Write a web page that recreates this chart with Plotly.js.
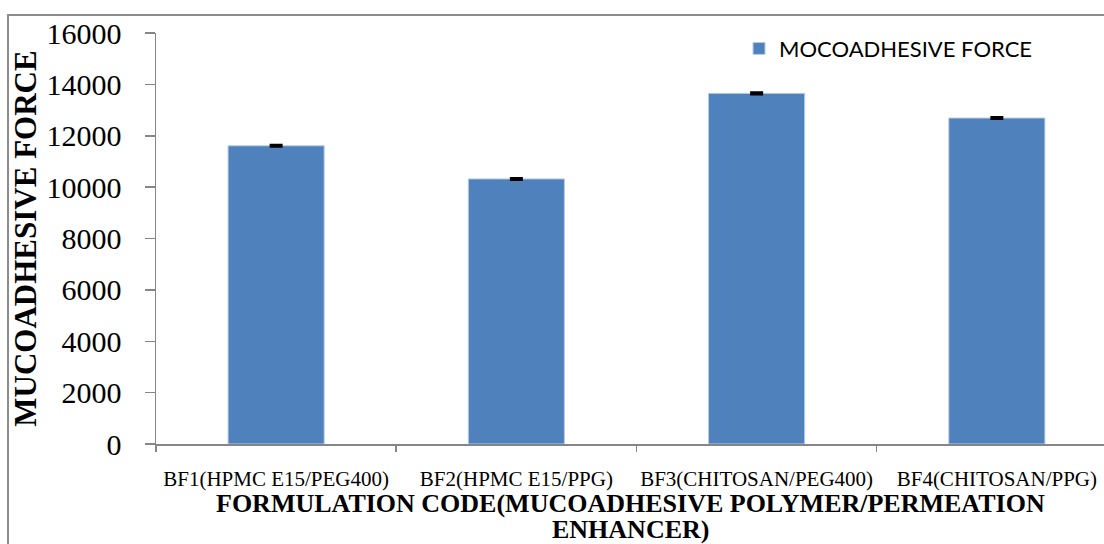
<!DOCTYPE html>
<html>
<head>
<meta charset="utf-8">
<script src="https://cdn.plot.ly/plotly-3.0.1.min.js"></script>
<style>html,body{margin:0;padding:0;background:#fff;}#chart{width:1104px;height:544px;}</style>
</head>
<body>
<div id="chart"></div>
<script>
const categories = ["BF1(HPMC E15/PEG400)", "BF2(HPMC E15/PPG)", "BF3(CHITOSAN/PEG400)", "BF4(CHITOSAN/PPG)"];
const forceValues = [11610, 10320, 13650, 12690];
const forceErrors = [20, 20, 20, 20];
const seriesName = "MOCOADHESIVE FORCE";
const yTickValues = [0, 2000, 4000, 6000, 8000, 10000, 12000, 14000, 16000];
const yTitle = "MUCOADHESIVE FORCE";
const xTitleLine1 = "FORMULATION CODE(MUCOADHESIVE POLYMER/PERMEATION";
const xTitleLine2 = "ENHANCER)";

const serif = "'Liberation Serif', 'Times New Roman', serif";
const axisGrey = "#868686";

const trace = {
  type: "bar",
  x: categories,
  y: forceValues,
  name: seriesName,
  width: 0.4,
  marker: {color: "#4F81BD", line: {color: "#b8cce4", width: 1}},
  error_y: {type: "data", array: forceErrors, visible: true, color: "#000", thickness: 3, width: 6.5},
  showlegend: true
};

const titleFont = {family: serif, size: 26, color: "#000"};

const layout = {
  width: 1104,
  height: 544,
  margin: {l: 156, r: 0, t: 33, b: 100, pad: 0},
  paper_bgcolor: "#fff",
  plot_bgcolor: "#fff",
  showlegend: true,
  legend: {
    x: 0.615, y: 0.962, xanchor: "left", yanchor: "middle",
    font: {family: "Lato, 'Open Sans', sans-serif", size: 22, color: "#000"},
    bgcolor: "rgba(0,0,0,0)", borderwidth: 0
  },
  xaxis: {
    type: "category",
    range: [-0.5, 3.446],
    showline: true, linecolor: axisGrey, linewidth: 1.5,
    ticks: "outside", tickson: "boundaries", ticklen: 6, tickcolor: axisGrey, tickwidth: 1.5,
    showgrid: false, zeroline: false,
    tickangle: 0,
    tickfont: {family: serif, size: 21, color: "#000"},
    ticklabelstandoff: 15,
    automargin: false,
    fixedrange: true
  },
  yaxis: {
    range: [0, 16000],
    tickvals: yTickValues,
    ticktext: yTickValues.map(String),
    showline: true, linecolor: axisGrey, linewidth: 1.5,
    ticks: "outside", ticklen: 10, tickcolor: axisGrey, tickwidth: 1.5,
    showgrid: false, zeroline: false,
    tickfont: {family: serif, size: 30, color: "#000"},
    ticklabelstandoff: 17,
    title: {text: "<b>" + yTitle + "</b>", font: {family: serif, size: 31, color: "#000"}, standoff: 0},
    automargin: false,
    fixedrange: true
  },
  annotations: [{
    text: "<b>" + xTitleLine1 + "</b>",
    xref: "paper", yref: "paper",
    x: 0.5, y: -0.1436, xanchor: "center", yanchor: "middle",
    showarrow: false,
    font: titleFont
  }, {
    text: "<b>" + xTitleLine2 + "</b>",
    xref: "paper", yref: "paper",
    x: 0.5, y: -0.2092, xanchor: "center", yanchor: "middle",
    showarrow: false,
    font: titleFont
  }],
  shapes: [{
    type: "path", xref: "paper", yref: "paper",
    path: "M -0.1561,-0.3 L -0.1561,1.0438 L 1.1,1.0438",
    line: {color: "#8c8c8c", width: 2}
  }]
};

Plotly.newPlot("chart", [trace], layout, {displayModeBar: false, staticPlot: true});
</script>
</body>
</html>
